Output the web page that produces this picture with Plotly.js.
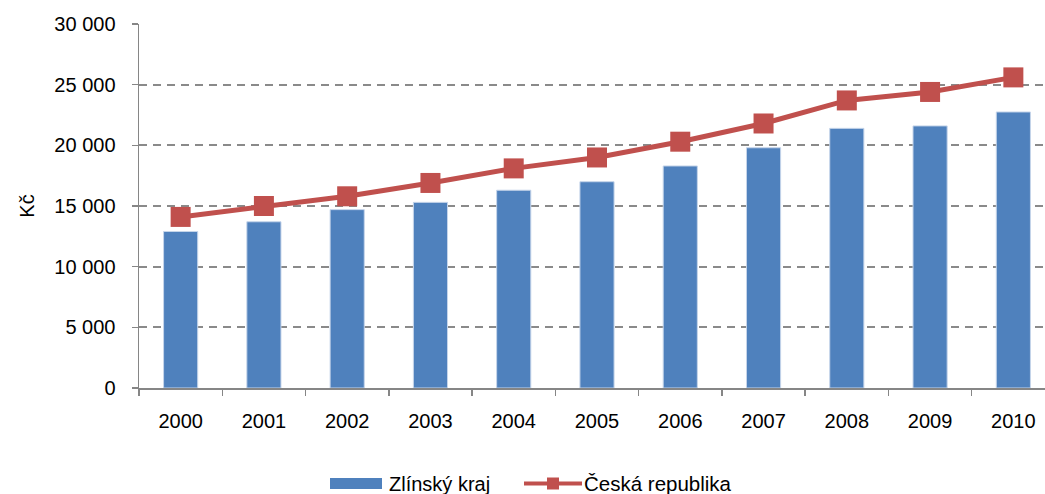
<!DOCTYPE html>
<html>
<head>
<meta charset="utf-8">
<script src="https://cdn.plot.ly/plotly-3.0.1.min.js"></script>
<style>html,body{margin:0;padding:0;background:#fff;}#chart{width:1045px;height:494px;}</style>
</head>
<body>
<div id="chart"></div>
<script>
const years = ['2000','2001','2002','2003','2004','2005','2006','2007','2008','2009','2010'];
const zlinsky = [12900, 13700, 14700, 15300, 16300, 17000, 18300, 19800, 21400, 21600, 22750];
const cr = [14100, 15000, 15800, 16900, 18100, 19000, 20300, 21800, 23700, 24400, 25600];
const yTicks = [0, 5000, 10000, 15000, 20000, 25000, 30000];
const seriesNames = ['Zlínský kraj', 'Česká republika'];
const colors = {bar: '#4F81BD', line: '#C0504D'};

const W = 1045, H = 494;
const M = {l: 139, r: 0, t: 24, b: 106};
const pw = W - M.l - M.r, ph = H - M.t - M.b;
const px = x => (x - M.l) / pw;
const py = y => (H - M.b - y) / ph;

const traces = [
  {
    type: 'bar', x: years, y: zlinsky, name: seriesNames[0],
    marker: {color: colors.bar, line: {color: '#C6D5EA', width: 1}},
    width: 0.41, showlegend: false
  },
  {
    type: 'scatter', mode: 'lines+markers', x: years, y: cr, name: seriesNames[1],
    line: {color: colors.line, width: 5},
    marker: {symbol: 'square', size: 20, color: colors.line},
    showlegend: false
  }
];

// legend drawn as decoration
const legY = 483.5;
const shapes = [
  {type: 'rect', xref: 'paper', yref: 'paper', x0: px(330), x1: px(382), y0: py(489), y1: py(478),
   fillcolor: colors.bar, line: {width: 0}},
  {type: 'line', xref: 'paper', yref: 'paper', x0: px(524), x1: px(582), y0: py(legY), y1: py(legY),
   line: {color: colors.line, width: 4}},
  {type: 'rect', xref: 'paper', yref: 'paper', x0: px(547), x1: px(559), y0: py(legY + 6), y1: py(legY - 6),
   fillcolor: colors.line, line: {width: 0}}
];
const annotations = [
  {xref: 'paper', yref: 'paper', x: px(387), y: py(legY), xanchor: 'left', yanchor: 'middle',
   text: seriesNames[0], showarrow: false, font: {size: 20}},
  {xref: 'paper', yref: 'paper', x: px(582), y: py(legY), xanchor: 'left', yanchor: 'middle',
   text: seriesNames[1], showarrow: false, font: {size: 20.5}}
];

const layout = {
  width: W, height: H,
  margin: M,
  paper_bgcolor: '#fff', plot_bgcolor: '#fff',
  font: {family: 'Liberation Sans, Arial, sans-serif', size: 20, color: '#000'},
  separators: ', ',
  showlegend: false,
  xaxis: {
    type: 'category', range: [-0.5, 10.38], automargin: false,
    showline: true, linecolor: '#868686', linewidth: 1.5,
    ticks: 'outside', tickson: 'boundaries', ticklen: 6, tickcolor: '#868686', tickwidth: 1.5,
    showgrid: false, zeroline: false, ticklabelstandoff: 14,
    tickfont: {size: 20}
  },
  yaxis: {
    range: [0, 30000], tickvals: yTicks, tickformat: ',d', automargin: false,
    showline: true, linecolor: '#868686', linewidth: 1.5,
    ticks: 'outside', ticklen: 6, tickcolor: '#868686', tickwidth: 1.5,
    showgrid: true, gridcolor: '#8A8A8A', gridwidth: 2, griddash: '8px,6px',
    zeroline: false, ticklabelstandoff: 12,
    title: {text: 'Kč', font: {size: 20}, standoff: 14},
    tickfont: {size: 20}
  },
  shapes: shapes,
  annotations: annotations,
  bargap: 0.59
};

Plotly.newPlot('chart', traces, layout, {displayModeBar: false, staticPlot: true});
</script>
</body>
</html>
